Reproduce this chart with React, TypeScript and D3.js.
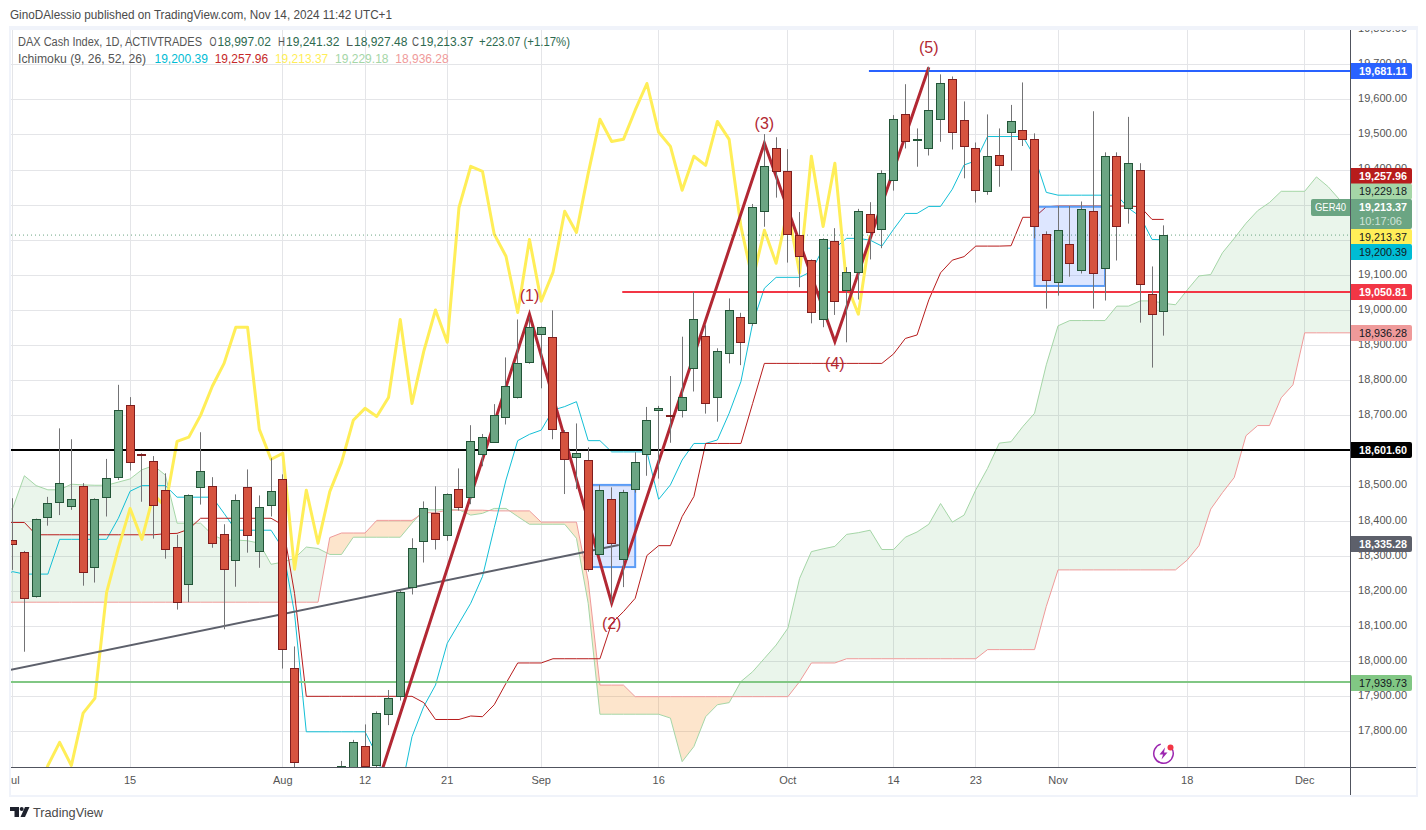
import React from 'react';
import * as d3 from 'd3';

// candles, index 0 is 15 Jul, first visible candle is index -10
const firstBar = -10;
const opens = [18344,18310,18187,18410,18452,18443,18498,18267,18467,18524,18729,18590,18569,18487,18324,18219,18495,18498,18361,18287,18495,18313,18444,18518,17980,17640,17400,17420,17650,17680,17758,17704,17849,17900,18210,18341,18421,18358,18489,18467,18589,18625,18695,18751,18851,18931,18922,18652,18581,18572,18304,18461,18292,18490,18589,18714,18701,18714,18834,18925,18751,18877,18979,18962,19281,19460,19395,19213,19142,18974,19196,19056,19107,19272,19230,19369,19557,19483,19460,19543,19657,19540,19460,19338,19441,19506,19514,19486,19216,19079,19187,19113,19281,19119,19438,19290,19398,19045,18997];
const highs = [18464,18314,18406,18468,18663,18632,18507,18464,18576,18787,18752,18592,18584,18535,18360,18475,18652,18524,18390,18475,18546,18472,18578,18532,18042,17660,17520,17630,17716,17776,17820,17857,17918,18203,18350,18455,18498,18478,18549,18672,18647,18732,18865,18973,18981,18953,18999,18658,18677,18609,18502,18495,18488,18595,18724,18727,18812,18924,19052,18957,18891,19033,18992,19302,19501,19492,19458,19279,19144,19204,19233,19122,19288,19307,19398,19555,19643,19517,19693,19671,19665,19594,19477,19557,19517,19584,19648,19503,19224,19296,19296,19309,19566,19449,19449,19550,19418,19124,19241];
const lows = [18260,18027,18181,18386,18416,18431,18215,18224,18412,18516,18543,18454,18349,18292,18147,18168,18446,18323,18091,18212,18309,18266,18412,17979,17650,17300,17340,17400,17600,17650,17660,17695,17818,17888,18190,18281,18318,18343,18429,18447,18555,18622,18674,18748,18847,18777,18632,18476,18490,18255,18300,18165,18211,18480,18528,18520,18622,18694,18768,18705,18682,18848,18843,18955,19237,19320,19135,19065,18962,18951,18986,18908,19030,19144,19176,19340,19460,19408,19440,19479,19457,19375,19306,19328,19351,19397,19467,19204,19004,19041,19095,19104,19004,19027,19141,19246,18964,18836,18927];
const closes = [18333,18181,18404,18450,18507,18461,18253,18461,18521,18714,18566,18587,18444,18319,18168,18472,18541,18336,18262,18458,18358,18438,18484,18034,17712,17390,17380,17610,17703,17769,17703,17852,17894,18196,18322,18435,18347,18475,18440,18626,18638,18700,18783,18848,18951,18951,18660,18575,18592,18262,18487,18336,18483,18566,18686,18720,18697,18751,18973,18734,18882,19000,18908,19292,19409,19395,19216,19153,18993,19201,19025,19107,19281,19221,19389,19543,19480,19486,19569,19645,19506,19466,19341,19438,19412,19537,19486,19238,19085,19227,19133,19287,19105,19438,19238,19418,19073,18988,19213];

// ichimoku, tenkan/kijun/spans start one bar earlier than the candles
const firstLine = -11;
const tenkan = [18240,18255,18248,18248,18248,18347,18347,18347,18347,18347,18407,18484,18500,18500,18500,18467,18467,18467,18467,18421,18373,18373,18373,18373,18321,18136,17799,17799,17799,17799,17799,17799,17733,17620,17620,17785,17871,17932,18051,18108,18165,18241,18380,18516,18628,18646,18658,18715,18725,18739,18628,18628,18596,18596,18596,18596,18461,18502,18573,18620,18620,18630,18706,18796,18962,19062,19093,19093,19093,19110,19176,19176,19204,19204,19199,19182,19230,19275,19275,19295,19295,19344,19413,19425,19494,19494,19494,19494,19437,19335,19327,19327,19327,19327,19327,19327,19290,19266,19201,19200];
const kijun = [18395,18395,18395,18360,18360,18360,18360,18360,18360,18360,18360,18360,18360,18360,18363,18364,18376,18407,18407,18407,18407,18407,18407,18407,18388,18193,17900,17900,17900,17900,17900,17900,17900,17900,17900,17900,17882,17834,17834,17834,17844,17842,17876,17937,17995,17995,17995,18007,18007,18007,18007,18007,18108,18141,18179,18301,18329,18329,18412,18469,18620,18620,18620,18620,18734,18848,18848,18848,18848,18848,18848,18848,18848,18848,18848,18848,18875,18919,18929,19029,19106,19142,19152,19182,19182,19182,19183,19264,19264,19294,19296,19296,19296,19296,19296,19296,19296,19294,19258,19258];
const spanA = [18420,18435,18528,18500,18488,18488,18504,18502,18501,18501,18510,18519,18545,18557,18530,18393,18393,18393,18360,18345,18345,18343,18336,18276,18282,18293,18325,18321,18304,18304,18353,18353,18353,18353,18353,18393,18431,18431,18432,18431,18416,18421,18435,18435,18412,18390,18390,18390,18390,18350,18165,17849,17849,17849,17849,17849,17849,17838,17714,17757,17842,17876,17882,17942,17970,18008,18046,18094,18236,18312,18320,18327,18361,18366,18373,18318,18318,18353,18368,18390,18449,18396,18416,18488,18549,18621,18625,18668,18706,18844,18955,18970,18970,18970,18970,19011,19011,19026,19026,19019,19015,19057,19097,19101,19163,19204,19247,19283,19306,19338,19338,19338,19379,19351,19313,19281];
const spanB = [18168,18168,18168,18168,18168,18168,18168,18168,18168,18168,18168,18168,18168,18168,18168,18168,18168,18168,18168,18168,18168,18168,18168,18168,18168,18168,18168,18168,18352,18365,18365,18365,18401,18401,18401,18401,18423,18423,18430,18430,18430,18430,18428,18428,18428,18428,18396,18396,18396,18396,18229,17932,17932,17932,17899,17899,17899,17899,17899,17899,17899,17899,17899,17899,17899,17899,17899,17899,17942,17995,17995,17995,18007,18007,18007,18007,18007,18007,18007,18007,18007,18007,18007,18007,18033,18033,18033,18033,18033,18156,18260,18260,18260,18260,18260,18260,18260,18260,18260,18260,18260,18288,18329,18433,18480,18523,18642,18671,18671,18750,18787,18935,18935,18935,18935,18935];
// lagging span, first value sits on bar -10
const chikou = [17390,17380,17610,17703,17769,17703,17852,17894,18196,18322,18435,18347,18475,18440,18626,18638,18700,18783,18848,18951,18951,18660,18575,18592,18262,18487,18336,18483,18566,18686,18720,18697,18751,18973,18734,18882,19000,18908,19292,19409,19395,19216,19153,18993,19201,19025,19107,19281,19221,19389,19543,19480,19486,19569,19645,19506,19466,19341,19438,19412,19537,19486,19238,19085,19227,19133,19287,19105,19438,19238,19418,19073,18988,19213];

const priceTicks = [17800,17900,18000,18100,18200,18300,18400,18500,18600,18700,18800,18900,19000,19100,19200,19300,19400,19500,19600,19700,19800];
// these three sit fully under a price tag, so no label is visible for them
const coveredTicks = [18600,19200,19300];
const timeTickBars = [-10,0,13,20,27,35,45,56,65,72,79,90,100];
const timeTickLabels = ['Jul','15','Aug','12','21','Sep','16','Oct','14','23','Nov','18','Dec'];

// drawings
const waveBars = [17,34,41,54,60,68];
const wavePrices = [17229,18988,18165,19475,18910,19691];
const waveLabels = ['(1)','(2)','(3)','(4)','(5)'];
const waveLabelOffsets = [-19,20,-20,22,-20];
const trendBars = [-10.2,41.6];
const trendPrices = [17975,18331];
const boxBars = [[39,43],[77,83]];
const boxPrices = [[18502,18268],[19294,19068.5]];
const levelPrices = [18601.6,17939.73,19050.81,19681.11];
const levelColors = ['#000000','#81c784','#f23645','#2962ff'];
const levelStartBars = [-12,-12,41.9,62.9];

const tagLabels = ['19,681.11','19,257.96','19,229.18','19,213.37','19,213.37','19,200.39','19,050.81','18,936.28','18,601.60','18,335.28','17,939.73'];
const tagFills = ['#2962ff','#b71c1c','#a5d6a7','#6ba583','#ffee58','#00bcd4','#f23645','#ef9a9a','#000000','#5d606b','#81c784'];
const tagInks = ['#fff','#fff','#131722','#fff','#131722','#131722','#fff','#131722','#fff','#fff','#131722'];
const tagTops = [63,168,183.5,199,229,244,284,325,442,536,675];

const legendNums = ['18,997.02','19,241.32','18,927.48','19,213.37'];
const legendLetters = ['O','H','L','C'];
const ichimokuValues = ['19,200.39','19,257.96','19,213.37','19,229.18','18,936.28'];
const ichimokuColors = ['#00bcd4','#c62828','#ffee58','#a5d6a7','#ef9a9a'];

const W = 1426;
const H = 830;
const plot = { left: 11, top: 30, right: 1350, bottom: 767 };
const font = '"Liberation Sans", Arial, sans-serif';
const candleUp = '#6ba583';
const candleDown = '#d6533f';

const x = d3.scaleLinear().domain([0, 100]).range([130.1, 1304.7]);
const y = d3.scaleLinear().domain([19600, 18000]).range([99.3, 661.2]);
const fmt = d3.format(',.2f');

const lineOf = (vals: number[], first: number) =>
  d3.line<number>().x((_, i) => x(i + first)).y((d) => y(d))(vals) || '';

const cloudIdx = spanA.map((_, i) => i);
const cloudArea = d3.area<number>()
  .x((i) => x(i + firstLine))
  .y0((i) => y(spanB[i]))
  .y1((i) => y(spanA[i]))(cloudIdx) || '';
// above span B = bullish part of the cloud, below = bearish part
const aboveB = d3.area<number>()
  .x((i) => x(i + firstLine))
  .y0(0)
  .y1((i) => y(spanB[i]))(cloudIdx) || '';
const belowB = d3.area<number>()
  .x((i) => x(i + firstLine))
  .y0(H)
  .y1((i) => y(spanB[i]))(cloudIdx) || '';

const App = () => {
  const barData = opens.map((o, i) => ({ i: i + firstBar, o, h: highs[i], l: lows[i], c: closes[i] }));
  return (
    <svg width={W} height={H} viewBox={`0 0 ${W} ${H}`} style={{ position: 'absolute', left: 0, top: 0, display: 'block' }} fontFamily={font}>
      <defs>
        <clipPath id="plot"><rect x={plot.left} y={plot.top} width={plot.right - plot.left} height={plot.bottom - plot.top} /></clipPath>
        <clipPath id="scale"><rect x={plot.right} y={plot.top} width={66} height={plot.bottom - plot.top} /></clipPath>
        <clipPath id="times"><rect x={plot.left} y={plot.bottom} width={plot.right - plot.left} height={28} /></clipPath>
        <clipPath id="aboveB"><path d={aboveB} /></clipPath>
        <clipPath id="belowB"><path d={belowB} /></clipPath>
      </defs>
      <rect width={W} height={H} fill="#fff" />
      <text x={10} y={19} fontSize={12} fill="#4a4a4a" textLength={382} lengthAdjust="spacingAndGlyphs">GinoDAlessio published on TradingView.com, Nov 14, 2024 11:42 UTC+1</text>

      {/* frame */}
      <rect x={9} y={26} width={1409} height={771} fill="#f0f3fa" />
      <rect x={plot.left} y={plot.top} width={1405} height={765} fill="#fff" />

      <g clipPath="url(#plot)">
        {priceTicks.map((p) => (
          <line key={p} x1={plot.left} x2={plot.right} y1={Math.round(y(p)) + 0.5} y2={Math.round(y(p)) + 0.5} stroke="#e4e5e8" />
        ))}
        {timeTickBars.map((b) => (
          <line key={b} x1={Math.floor(x(b)) + 0.5} x2={Math.floor(x(b)) + 0.5} y1={plot.top} y2={plot.bottom} stroke="#e4e5e8" />
        ))}

        <path d={cloudArea} fill="rgba(67,160,71,0.11)" clipPath="url(#aboveB)" />
        <path d={cloudArea} fill="rgba(245,124,0,0.2)" clipPath="url(#belowB)" />
        <path d={lineOf(spanA, firstLine)} fill="none" stroke="#a5d6a7" strokeWidth={1} />
        <path d={lineOf(spanB, firstLine)} fill="none" stroke="#ef9a9a" strokeWidth={1} />
        <path d={lineOf(tenkan, firstLine)} fill="none" stroke="#13bfd6" strokeWidth={1} />
        <path d={lineOf(kijun, firstLine)} fill="none" stroke="#b71c1c" strokeWidth={1} />
        <path d={lineOf(chikou, firstBar)} fill="none" stroke="#ffee58" strokeWidth={3} strokeLinejoin="round" />

        <line x1={plot.left} x2={plot.right} y1={y(19213.37)} y2={y(19213.37)} stroke="#6ba583" strokeDasharray="1 3" />

        {/* drawings sit under the candles */}
        {boxBars.map((b, i) => (
          <rect key={i} x={x(b[0])} width={x(b[1]) - x(b[0])} y={y(boxPrices[i][0])} height={y(boxPrices[i][1]) - y(boxPrices[i][0])} fill="rgba(41,98,255,0.16)" stroke="#5b9cf6" strokeWidth={2} />
        ))}
        <line x1={x(trendBars[0])} x2={x(trendBars[1])} y1={y(trendPrices[0])} y2={y(trendPrices[1])} stroke="#5d606b" strokeWidth={2} />
        {levelPrices.map((p, i) => (
          <line key={p} x1={x(levelStartBars[i])} x2={plot.right} y1={Math.round(y(p))} y2={Math.round(y(p))} stroke={levelColors[i]} strokeWidth={2} />
        ))}
        <path d={d3.line<number>().x((b) => x(b)).y((_, i) => y(wavePrices[i]))(waveBars) || ''} fill="none" stroke="#b22833" strokeWidth={3} strokeLinejoin="miter" />

        {barData.map((d) => {
          const cx = Math.floor(x(d.i));
          const up = d.c >= d.o;
          const top = Math.round(y(Math.max(d.o, d.c)));
          const bot = Math.round(y(Math.min(d.o, d.c)));
          return (
            <g key={d.i}>
              <line x1={cx + 0.5} x2={cx + 0.5} y1={y(d.h)} y2={y(d.l)} stroke="#737375" />
              <rect x={cx - 3.5} y={top + 0.5} width={8} height={Math.max(bot - top, 0.5)} fill={up ? candleUp : candleDown} stroke={up ? '#225437' : '#7f1d1d'} />
            </g>
          );
        })}

        {waveLabels.map((t, i) => (
          <text key={t} x={x(waveBars[i + 1])} y={y(wavePrices[i + 1]) + waveLabelOffsets[i]} dy="0.35em" textAnchor="middle" fontSize={16} fill="#b22833">{t}</text>
        ))}

        {/* alert icon */}
        <g transform="translate(1163.5,753.5)">
          <path d={d3.arc()({ innerRadius: 9, outerRadius: 10.5, startAngle: 0.9, endAngle: 6.0 }) || ''} fill="#9c27b0" />
          <path d="M1.5 -6 L-4 1 H-0.5 L-2 6 L4 -1 H0.5 Z" fill="#9c27b0" />
          <circle cx={7} cy={-6} r={3} fill="#f23645" />
        </g>

        {/* symbol tag */}
        <path d="M1350 199 H1313 a2 2 0 0 0 -2 2 V214 a2 2 0 0 0 2 2 H1350 Z" fill="#6ba583" />
        <text x={1315} y={207.5} dy="0.35em" fontSize={11} fill="#fff" textLength={31} lengthAdjust="spacingAndGlyphs">GER40</text>
      </g>

      {/* legend */}
      <text x={18} y={46} fontSize={12} fill="#555" textLength={184} lengthAdjust="spacingAndGlyphs">DAX Cash Index, 1D, ACTIVTRADES</text>
      {legendNums.map((v, i) => (
        <g key={i} fontSize={12}>
          <text x={[209.5, 278, 346, 412][i]} y={46} fill="#555" textLength={7} lengthAdjust="spacingAndGlyphs">{legendLetters[i]}</text>
          <text x={[217.5, 286, 354, 420][i]} y={46} fill="#2d6a4f">{v}</text>
        </g>
      ))}
      <text x={479} y={46} fontSize={12} fill="#2d6a4f" textLength={91} lengthAdjust="spacingAndGlyphs">+223.07 (+1.17%)</text>
      <text x={18} y={63} fontSize={12} fill="#555" textLength={128} lengthAdjust="spacingAndGlyphs">Ichimoku (9, 26, 52, 26)</text>
      {ichimokuValues.map((v, i) => (
        <text key={i} x={154.5 + i * 60.2} y={63} fontSize={12} fill={ichimokuColors[i]}>{v}</text>
      ))}

      {/* price scale */}
      <g clipPath="url(#scale)">
        {priceTicks.filter((p) => !coveredTicks.includes(p)).map((p) => (
          <text key={p} x={1407} y={y(p) - 1} dy="0.35em" textAnchor="end" fontSize={11} fill="#555">{fmt(p)}</text>
        ))}
      </g>
      {tagLabels.map((t, i) => {
        const h = i === 3 ? 30 : 16;
        return (
          <g key={i}>
            <path d={`M1351 ${tagTops[i]} H1410 a2 2 0 0 1 2 2 V${tagTops[i] + h - 2} a2 2 0 0 1 -2 2 H1351 Z`} fill={tagFills[i]} />
            <text x={1407} y={tagTops[i] + 8} dy="0.35em" textAnchor="end" fontSize={11} fontWeight={tagInks[i] === '#fff' ? 700 : 400} fill={tagInks[i]} textLength={48} lengthAdjust="spacingAndGlyphs">{t}</text>
            {i === 3 && <text x={1402} y={tagTops[i] + 22} dy="0.35em" textAnchor="end" fontSize={11} fill="#cfe3d8">10:17:06</text>}
          </g>
        );
      })}

      {/* time scale */}
      <g clipPath="url(#times)">
        {timeTickBars.map((b, i) => (
          <text key={b} x={x(b)} y={780} dy="0.35em" textAnchor="middle" fontSize={11} fill="#555">{timeTickLabels[i]}</text>
        ))}
      </g>

      {/* axis lines */}
      <line x1={plot.right + 0.5} x2={plot.right + 0.5} y1={plot.top} y2={795} stroke="#50535e" />
      <line x1={plot.left} x2={1416} y1={plot.bottom + 0.5} y2={plot.bottom + 0.5} stroke="#50535e" />

      {/* footer logo */}
      <g transform="translate(10,807)" fill="#1e222d">
        <path d="M0 0 H9 V10 H4.5 V4 H0 Z" />
        <circle cx={11.7} cy={2} r={2} />
        <path d="M15 0 H19.5 L15 10 H10.5 Z" />
      </g>
      <text x={33} y={817} fontSize={13.5} fill="#4a4a4a" textLength={70} lengthAdjust="spacingAndGlyphs">TradingView</text>
    </svg>
  );
};

export default App;
